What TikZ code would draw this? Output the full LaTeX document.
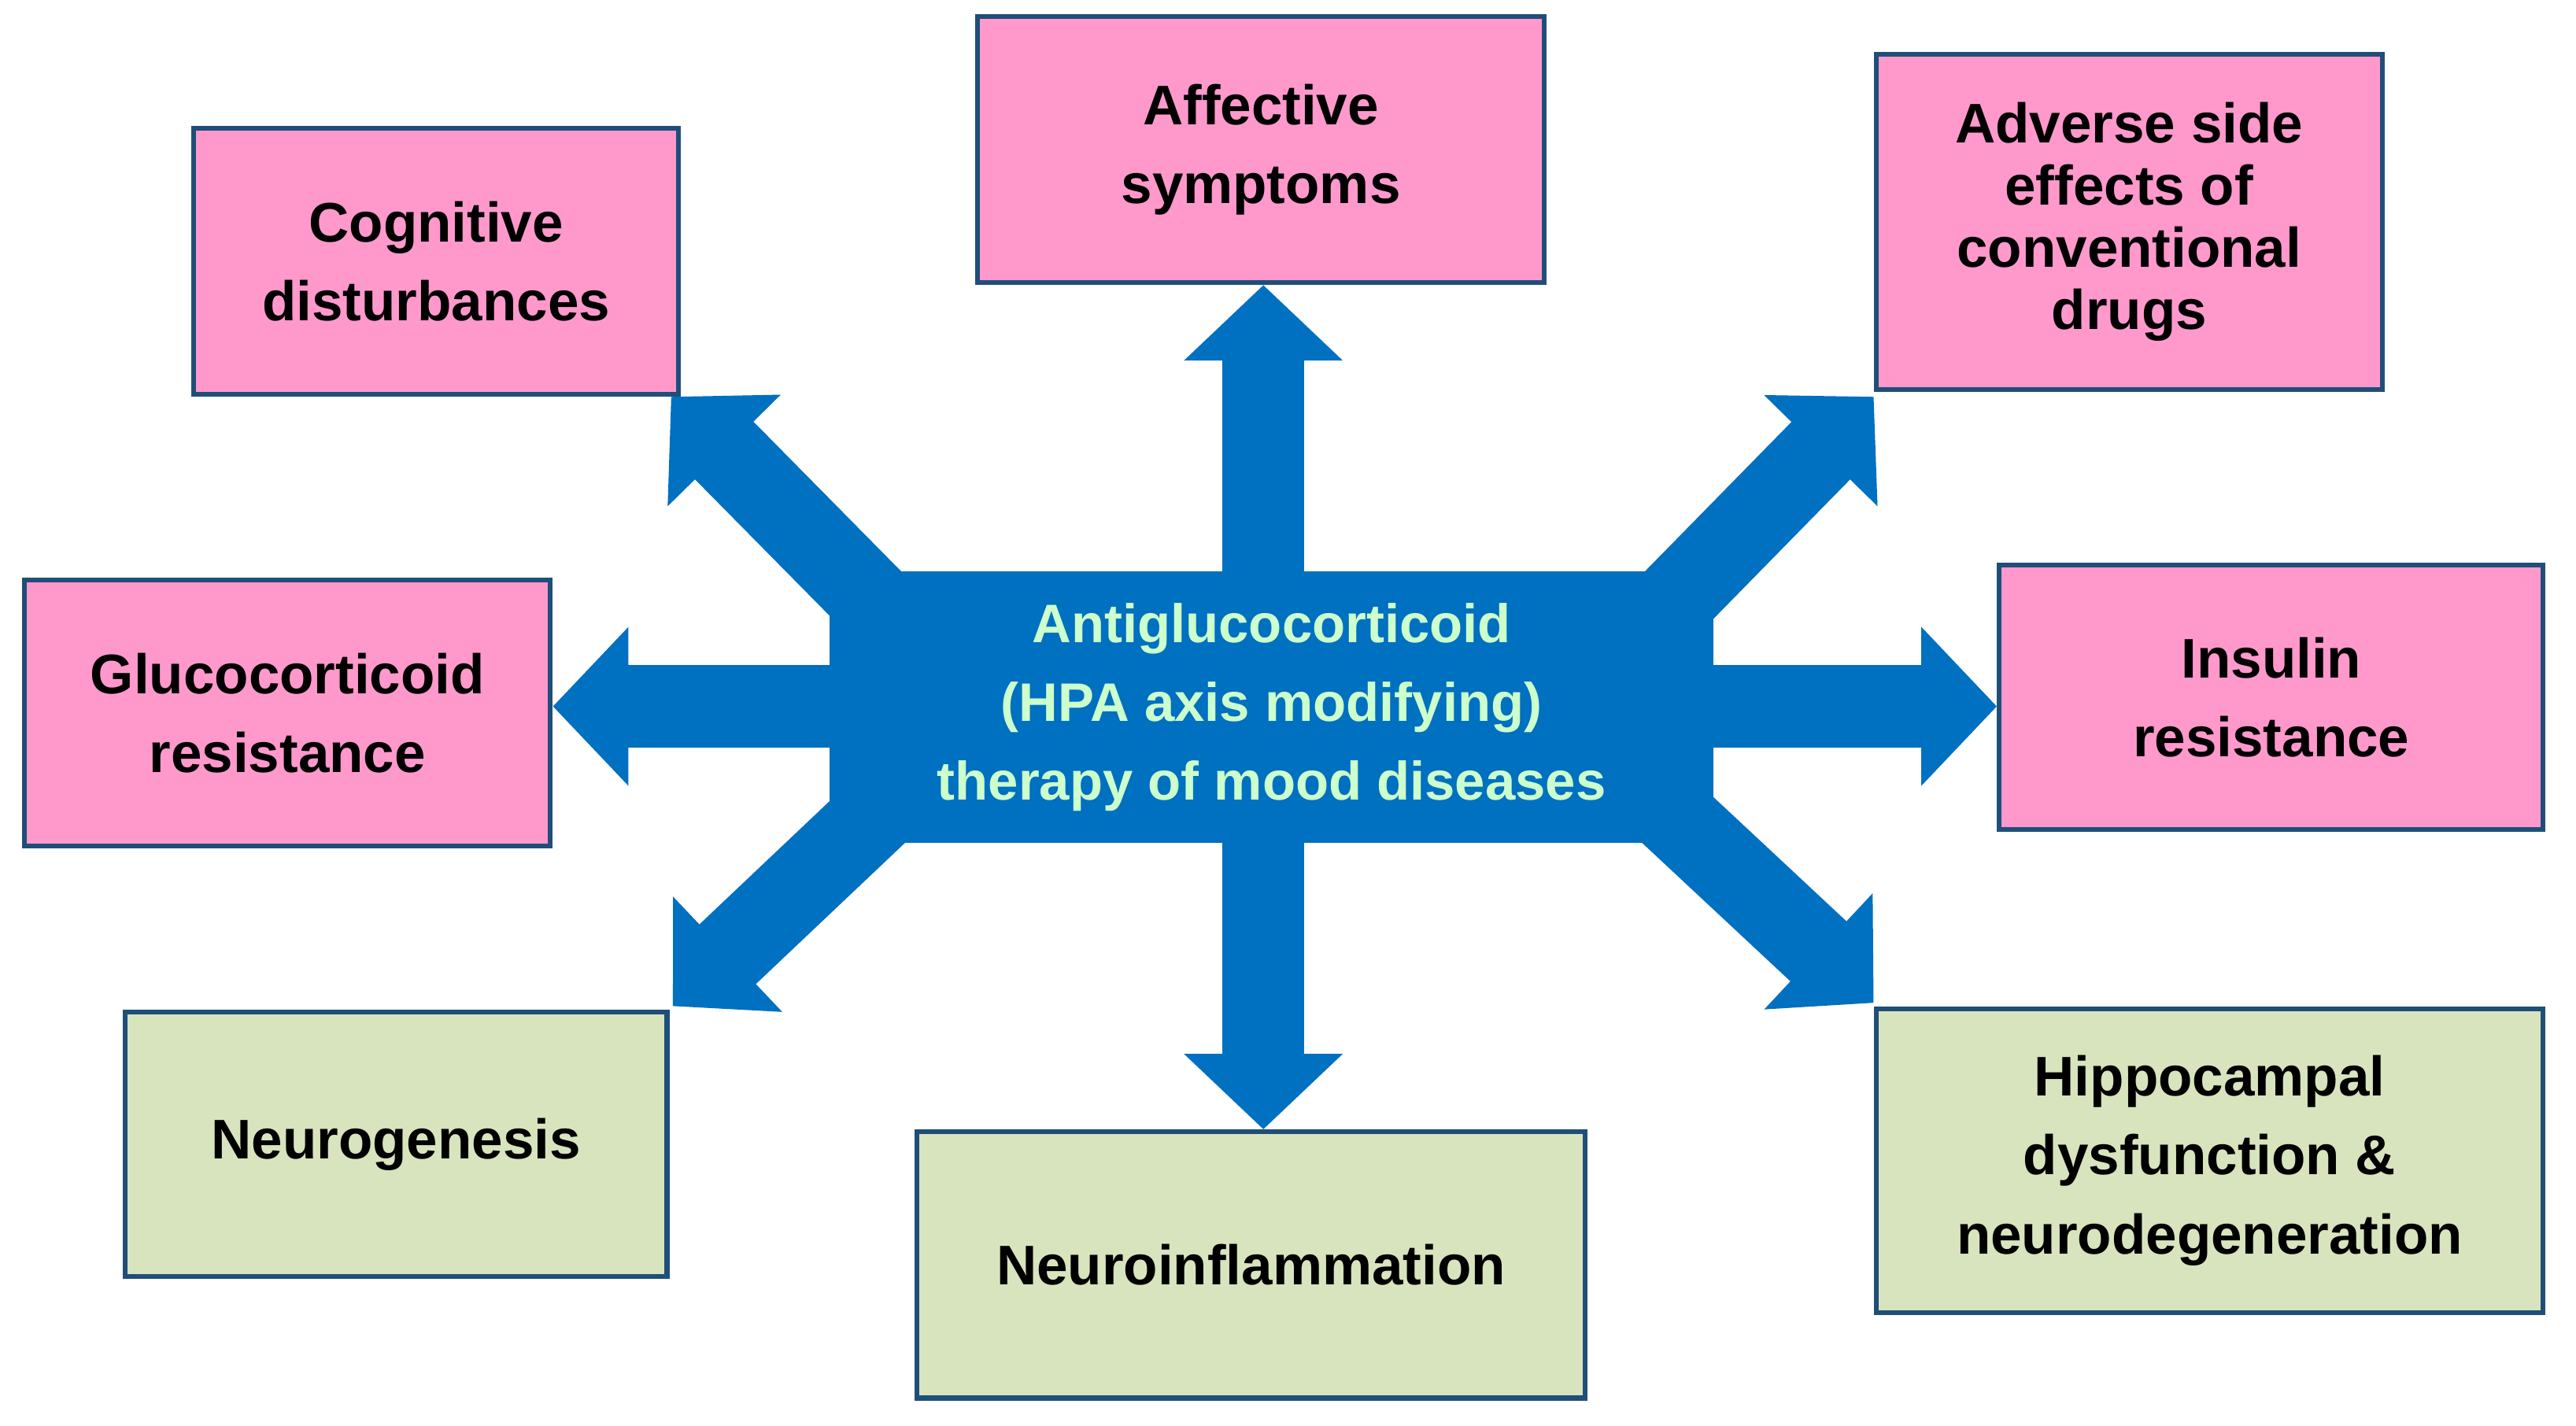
\documentclass[tikz,border=0pt]{standalone}
\usepackage{fontspec}
\setmainfont{Liberation Sans}
\usetikzlibrary{arrows.meta,calc}
\definecolor{pk}{HTML}{FF99CC}
\definecolor{gr}{HTML}{D7E4BD}
\definecolor{bl}{HTML}{0070C0}
\definecolor{bd}{HTML}{1F4E79}
\definecolor{ct}{HTML}{CCFFCC}
\begin{document}
\begin{tikzpicture}[x=1pt,y=-1pt,
 box/.style={draw=bd,line width=3pt,align=center,font=\fontsize{34}{48}\selectfont\bfseries,inner sep=0pt},
 pbox/.style={box,fill=pk},gbox/.style={box,fill=gr},
 arr/.style={draw=bl,line width=50pt,-{Triangle[length=46pt,width=94pt]}}]
\useasboundingbox (0,0) rectangle (1568,868);
\node[pbox,minimum width=295pt,minimum height=162pt] (cog) at (265.5,159) {Cognitive\\disturbances};
\node[pbox,minimum width=345pt,minimum height=162pt] (aff) at (767.5,91) {Affective\\symptoms};
\node[pbox,minimum width=308pt,minimum height=204pt] (adv) at (1296,135) {Adverse side\\[-10pt]effects of\\[-10pt]conventional\\[-10pt]drugs};
\node[pbox,minimum width=320pt,minimum height=162pt] (glu) at (175,434) {Glucocorticoid\\resistance};
\node[pbox,minimum width=331pt,minimum height=161pt] (ins) at (1382.5,424.5) {Insulin\\resistance};
\node[gbox,minimum width=330pt,minimum height=161pt] (neu) at (241,696.5) {Neurogenesis};
\node[gbox,minimum width=407pt,minimum height=162pt] (nin) at (761.5,770) {Neuroinflammation};
\node[gbox,minimum width=406pt,minimum height=185pt] (hip) at (1345,706.5) {Hippocampal\\dysfunction \&\\neurodegeneration};
\coordinate (c) at (769,430);
\coordinate (ul) at (560,395);
\coordinate (ur) at (990,395);
\coordinate (ll) at (560,470);
\coordinate (lr) at (990,470);
\draw[arr] (c) -- (c |- aff.south);
\draw[arr] (c) -- (c |- nin.north);
\draw[arr] (c) -- (c -| glu.east);
\draw[arr] (c) -- (c -| ins.west);
\draw[arr] (ul) -- ($(cog.south east)+(-6,0)$);
\draw[arr] (ur) -- ($(adv.south west)+(0,3)$);
\draw[arr] (ll) -- ($(neu.north east)+(2,-2)$);
\draw[arr] (lr) -- ($(hip.north west)+(0,-2)$);
\node[fill=bl,minimum width=538pt,minimum height=165pt,inner sep=0pt,align=center,text=ct,
 font=\fontsize{33}{48}\selectfont\bfseries] (ctr) at (774,430.5)
 {Antiglucocorticoid\\(HPA axis modifying)\\therapy of mood diseases};
\end{tikzpicture}
\end{document}
